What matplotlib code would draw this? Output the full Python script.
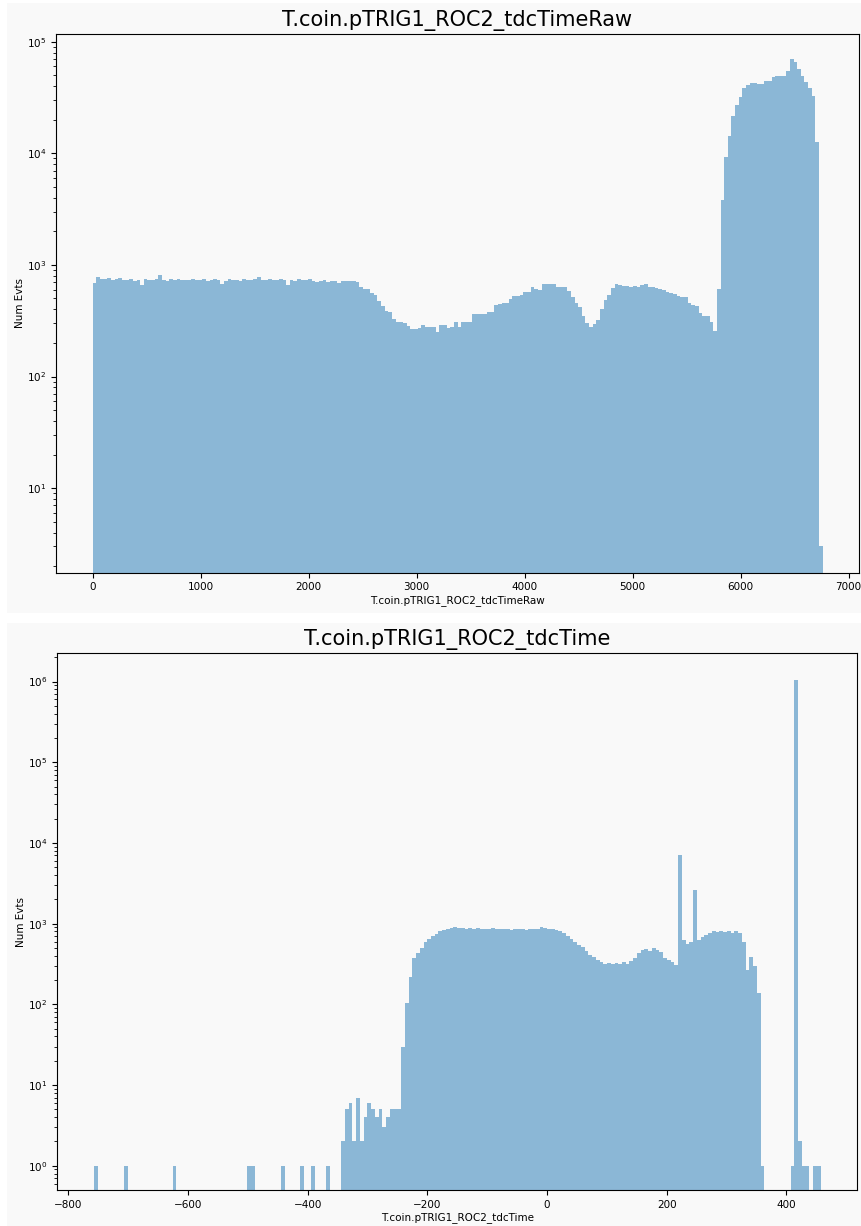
import numpy as np
import matplotlib
matplotlib.use("Agg")
import matplotlib.pyplot as plt
from matplotlib.patches import Rectangle

# ---------------- data ----------------
raw_title = "T.coin.pTRIG1_ROC2_tdcTimeRaw"
time_title = "T.coin.pTRIG1_ROC2_tdcTime"
ylabel_text = "Num Evts"

# top histogram: 200 bins spanning 0 .. 6760
raw_range = (0, 6760)
raw_counts = [
    690, 780, 745, 740, 760, 735, 745, 770, 730, 725,
    740, 720, 735, 660, 740, 725, 735, 745, 810, 735,
    720, 745, 730, 740, 725, 735, 725, 740, 730, 735,
    740, 720, 735, 745, 725, 675, 715, 745, 730, 735,
    720, 740, 735, 725, 740, 775, 735, 725, 740, 730,
    735, 745, 725, 665, 735, 720, 740, 725, 730, 740,
    715, 705, 720, 735, 710, 720, 720, 695, 720, 720,
    720, 720, 700, 640, 605, 605, 563, 537, 470, 427,
    385, 380, 330, 310, 310, 300, 283, 268, 268, 270,
    288, 278, 278, 275, 251, 288, 288, 270, 278, 310,
    280, 305, 310, 310, 365, 365, 365, 365, 382, 382,
    435, 445, 453, 453, 492, 526, 526, 540, 568, 568,
    630, 610, 596, 675, 675, 675, 675, 640, 632, 632,
    580, 520, 460, 420, 345, 300, 279, 296, 320, 400,
    480, 540, 617, 675, 655, 650, 648, 640, 642, 638,
    660, 670, 640, 632, 617, 610, 590, 570, 556, 550,
    525, 519, 515, 460, 440, 430, 370, 351, 345, 310,
    255, 610, 3800, 9300, 14300, 21600, 27100, 31700, 38300, 40900,
    42900, 42900, 41800, 41800, 44500, 44500, 47900, 49200, 49200, 49200,
    55000, 69500, 65300, 56600, 49200, 43800, 38700, 32600, 12600, 3,
]

# bottom histogram: 200 bins spanning -776 .. 476
time_range = (-776, 476)
time_counts = [
    0, 0, 0, 1, 0, 0, 0, 0, 0, 0,
    0, 1, 0, 0, 0, 0, 0, 0, 0, 0,
    0, 0, 0, 0, 1, 0, 0, 0, 0, 0,
    0, 0, 0, 0, 0, 0, 0, 0, 0, 0,
    0, 0, 0, 0, 1, 1, 0, 0, 0, 0,
    0, 0, 0, 1, 0, 0, 0, 0, 1, 0,
    0, 1, 0, 0, 0, 1, 0, 0, 0, 2,
    5, 6, 2, 7, 2, 4, 6, 5, 4, 5,
    3, 4, 5, 5, 5, 30, 105, 220, 380, 430,
    500, 600, 650, 700, 750, 800, 840, 870, 880, 900,
    880, 890, 870, 880, 860, 890, 870, 850, 870, 880,
    860, 850, 870, 860, 840, 860, 850, 870, 840, 860,
    850, 870, 900, 880, 860, 850, 830, 800, 760, 700,
    650, 600, 550, 510, 460, 410, 385, 350, 330, 320,
    325, 320, 325, 320, 330, 320, 340, 380, 430, 470,
    490, 460, 500, 470, 440, 380, 350, 330, 310, 7100,
    620, 560, 600, 2630, 620, 680, 720, 760, 800, 780,
    810, 790, 800, 770, 800, 760, 600, 270, 385, 300,
    140, 1, 0, 0, 0, 0, 0, 0, 0, 1,
    1050000, 2, 1, 1, 0, 1, 1, 0, 0, 0,
]

# ---------------- figure ----------------
W, H = 862, 1226
fig = plt.figure(figsize=(W / 100, H / 100), dpi=100, facecolor="white")

panel_bg = "#f9f9f9"
# two panel backgrounds (the reference is two stacked images)
fig.patches.append(Rectangle((7 / W, 1 - 612.7 / H), 1 - 7 / W, (612.7 - 3) / H,
                             transform=fig.transFigure, facecolor=panel_bg,
                             edgecolor="none", zorder=-10))
fig.patches.append(Rectangle((7 / W, 0), 1 - 7 / W, 1 - 622.7 / H,
                             transform=fig.transFigure, facecolor=panel_bg,
                             edgecolor="none", zorder=-10))

def axes_px(left, top, right, bottom):
    return fig.add_axes([left / W, 1 - bottom / H, (right - left) / W, (bottom - top) / H])

ax1 = axes_px(56, 34, 858.7, 572.7)
ax2 = axes_px(57.3, 653.3, 857, 1190)

def draw_hist(ax, counts, rng):
    counts = np.asarray(counts, dtype=float)
    edges = np.linspace(rng[0], rng[1], len(counts) + 1)
    centers = 0.5 * (edges[:-1] + edges[1:])
    ax.hist(centers, bins=edges, weights=counts, histtype="stepfilled",
            color="C0", alpha=0.5, log=True)

draw_hist(ax1, raw_counts, raw_range)
draw_hist(ax2, time_counts, time_range)

ax1.set_xlim(-340, 7093)
ax1.set_ylim(10 ** 0.242, 10 ** 5.069)
ax2.set_xlim(-818.4, 518.2)
ax2.set_ylim(10 ** -0.301, 10 ** 6.35)

for ax, t in ((ax1, raw_title), (ax2, time_title)):
    ax.set_facecolor(panel_bg)
    ax.set_title(t, fontsize=15, pad=6)
    ax.set_xlabel(t, fontsize=7.5, labelpad=2)
    ax.set_ylabel(ylabel_text, fontsize=7.5)
    ax.tick_params(axis="both", which="major", labelsize=7.5, length=3.5, width=0.8)
    ax.tick_params(axis="both", which="minor", length=2, width=0.6)

ax1.yaxis.set_label_coords(-0.038, 0.5)
ax2.yaxis.set_label_coords(-0.039, 0.5)

fig.savefig("out.png", dpi=100, facecolor="white")
